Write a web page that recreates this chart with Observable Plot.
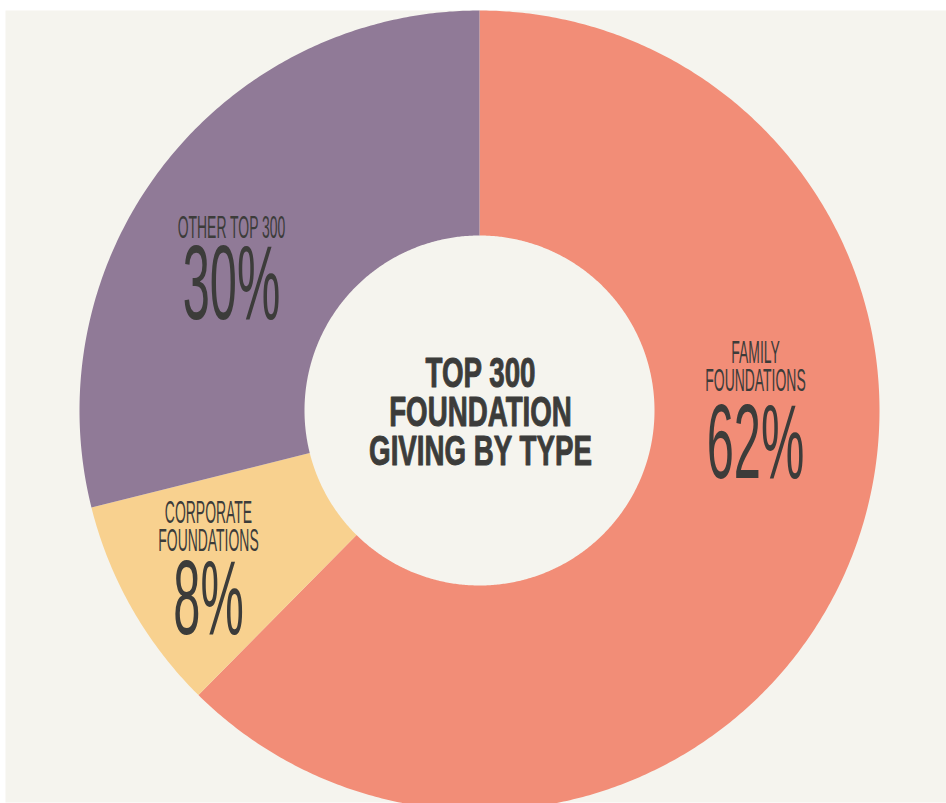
<!DOCTYPE html>
<html>
<head>
<meta charset="utf-8">
<script src="https://cdn.jsdelivr.net/npm/d3@7"></script>
<script src="https://cdn.jsdelivr.net/npm/@observablehq/plot@0.6"></script>
<style>
  html, body { margin: 0; padding: 0; background: #ffffff; }
  #chart svg { display: block; }
</style>
</head>
<body>
<div id="chart"></div>
<script>
// ---- data ----
const categories = ["Family foundations", "Corporate foundations", "Other top 300"];
const shares = [62.4, 8.7, 28.9];               // slice sizes
const pctLabels = ["62%", "8%", "30%"];          // printed labels
const nameLabels = ["FAMILY\nFOUNDATIONS", "CORPORATE\nFOUNDATIONS", "OTHER TOP 300"];
const sliceColors = ["#f28d77", "#f8d18f", "#907a97"];
const titleLines = ["TOP 300", "FOUNDATION", "GIVING BY TYPE"];

// ---- layout ----
const W = 946, H = 803;
const cx = 479, cy = 410, rOuter = 400, rInner = 175;
const bg = "#f5f4ee", ink = "#3c3c3a";
// label anchor offsets from centre (name baseline of last line, number baseline)
const labelAt = [
  {dx: 276, name: -20, num: 67},
  {dx: -271, name: 140, num: 223},
  {dx: -248, name: -173, num: -92}
];

// ---- geometry from data ----
const arcs = d3.pie().sort(null).value(d => d).startAngle(0).endAngle(2 * Math.PI)(shares);
const pt = (a, r) => [cx + r * Math.sin(a), cy - r * Math.cos(a)];
const ring = [];
arcs.forEach((a, i) => {
  const n = Math.max(8, Math.ceil((a.endAngle - a.startAngle) * 120));
  for (let k = 0; k <= n; k++) {
    const t = a.startAngle + (a.endAngle - a.startAngle) * k / n;
    const [x, y] = pt(t, rOuter);
    ring.push({cat: categories[i], color: sliceColors[i], x, y});
  }
  for (let k = n; k >= 0; k--) {
    const t = a.startAngle + (a.endAngle - a.startAngle) * k / n;
    const [x, y] = pt(t, rInner);
    ring.push({cat: categories[i], color: sliceColors[i], x, y});
  }
});

const names = categories.map((c, i) => ({text: nameLabels[i], x: cx + labelAt[i].dx, y: cy + labelAt[i].name}));
const nums = categories.map((c, i) => ({text: pctLabels[i], x: cx + labelAt[i].dx, y: cy + labelAt[i].num}));

const plot = Plot.plot({
  width: W, height: H,
  margin: 0,
  x: {type: "identity", axis: null},
  y: {type: "identity", axis: null},
  style: {background: "#ffffff"},
  marks: [
    Plot.frame({fill: bg, stroke: null, insetLeft: 5, insetTop: 10, insetBottom: 1}),
    Plot.line(ring, {x: "x", y: "y", z: "cat", fill: "color", stroke: "none", curve: "linear-closed"}),
    Plot.text(names, {x: "x", y: "y", text: "text", textAnchor: "middle", lineAnchor: "bottom",
      lineHeight: 0.9, fontSize: 31, fill: ink, fontFamily: "Liberation Sans, Arial, sans-serif"}),
    Plot.text(nums, {x: "x", y: "y", text: "text", textAnchor: "middle", lineAnchor: "bottom",
      fontSize: 106, fill: ink, fontFamily: "Liberation Sans, Arial, sans-serif"}),
    Plot.text([titleLines.join("\n")], {x: () => cx + 1, y: () => cy + 54, text: d => d, textAnchor: "middle",
      lineAnchor: "bottom", lineHeight: 0.92, fontSize: 42, fontWeight: "bold", fill: ink,
      stroke: ink, strokeWidth: 1, fontFamily: "Liberation Sans, Arial, sans-serif"})
  ]
});

// condense the type to match the narrow face of the original
const squeeze = [0.45, 0.46, 0.66];
plot.querySelectorAll('g[aria-label="text"]').forEach((g, i) => {
  g.querySelectorAll("text").forEach(t => {
    const tr = t.getAttribute("transform") || "";
    t.setAttribute("transform", tr + ` scale(${squeeze[i]},1)`);
  });
});
document.getElementById("chart").appendChild(plot);
</script>
</body>
</html>
